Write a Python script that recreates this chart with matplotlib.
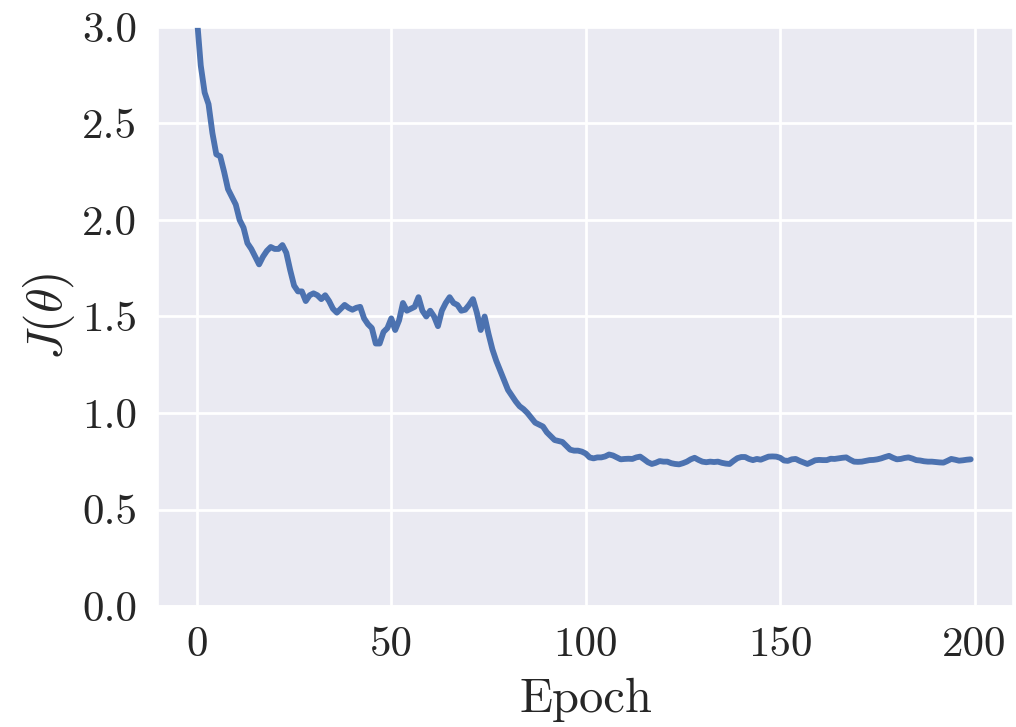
import matplotlib
matplotlib.use("Agg")

import matplotlib.pyplot as plt
import seaborn as sns
import numpy as np

# ------------------------------------------------------------
# DATA
# ------------------------------------------------------------
epochs = np.arange(200)

loss = [
    3.05, 2.80, 2.66, 2.60, 2.45, 2.34, 2.33, 2.25, 2.16, 2.12,
    2.08, 2.00, 1.96, 1.88, 1.85, 1.81, 1.77, 1.81, 1.84, 1.86,
    1.85, 1.85, 1.87, 1.83, 1.74, 1.66, 1.63, 1.63, 1.58, 1.61,
    1.62, 1.61, 1.59, 1.61, 1.58, 1.54, 1.52, 1.54, 1.56, 1.545,
    1.535, 1.545, 1.55, 1.49, 1.46, 1.44, 1.36, 1.36, 1.42, 1.44,
    1.49, 1.43, 1.48, 1.57, 1.53, 1.54, 1.55, 1.60, 1.53, 1.50,
    1.53, 1.50, 1.45, 1.53, 1.57, 1.60, 1.57, 1.56, 1.53, 1.535,
    1.56, 1.59, 1.52, 1.43, 1.50, 1.41, 1.33, 1.27, 1.22, 1.17,
    1.12, 1.09, 1.06, 1.035, 1.02, 1.00, 0.975, 0.95, 0.94, 0.93,
    0.90, 0.88, 0.86, 0.855, 0.85, 0.83, 0.81, 0.805, 0.805, 0.80,
    0.79, 0.77, 0.765, 0.77, 0.77, 0.775, 0.785, 0.78, 0.77, 0.76,
    0.762, 0.763, 0.762, 0.77, 0.774, 0.76, 0.745, 0.736, 0.742, 0.751,
    0.748, 0.748, 0.74, 0.736, 0.734, 0.74, 0.748, 0.76, 0.768, 0.757,
    0.748, 0.745, 0.748, 0.746, 0.748, 0.742, 0.738, 0.736, 0.752, 0.766,
    0.772, 0.772, 0.762, 0.756, 0.762, 0.758, 0.766, 0.774, 0.775, 0.774,
    0.768, 0.754, 0.752, 0.76, 0.762, 0.752, 0.744, 0.736, 0.745, 0.755,
    0.757, 0.756, 0.756, 0.763, 0.762, 0.765, 0.768, 0.77, 0.758, 0.748,
    0.747, 0.748, 0.752, 0.756, 0.757, 0.76, 0.765, 0.772, 0.778, 0.768,
    0.76, 0.762, 0.767, 0.77, 0.764, 0.756, 0.754, 0.75, 0.748, 0.748,
    0.746, 0.744, 0.743, 0.752, 0.762, 0.758, 0.753, 0.755, 0.758, 0.76,
]

x_ticks = [0, 50, 100, 150, 200]
y_ticks = [0.0, 0.5, 1.0, 1.5, 2.0, 2.5, 3.0]

# ------------------------------------------------------------
# STYLE
# ------------------------------------------------------------
sns.set_theme(style="darkgrid")
plt.rcParams["font.family"] = ["cmr10", "DejaVu Serif"]
plt.rcParams["mathtext.fontset"] = "cm"
plt.rcParams["axes.formatter.use_mathtext"] = True
plt.rcParams["grid.linewidth"] = 2.0

# ------------------------------------------------------------
# PLOT
# ------------------------------------------------------------
fig = plt.figure(figsize=(10.16, 7.27), dpi=100)
ax = fig.add_axes([0.1555, 0.1664, 0.842, 0.7965])

ax.plot(epochs, loss, color="#4C72B0", linewidth=4.2)

ax.set_ylim(0, 3.0)
ax.set_xlim(-10, 210)
ax.set_xticks(x_ticks)
ax.set_yticks(y_ticks)
ax.set_xticklabels([str(t) for t in x_ticks])
ax.set_yticklabels([f"{t:.1f}" for t in y_ticks])
ax.tick_params(labelsize=31, pad=9, colors="#262626")

ax.set_xlabel("Epoch", fontsize=35, labelpad=10)
ax.set_ylabel(r"$J(\theta)$", fontsize=36, labelpad=4)

fig.savefig("out.png", dpi=100)
